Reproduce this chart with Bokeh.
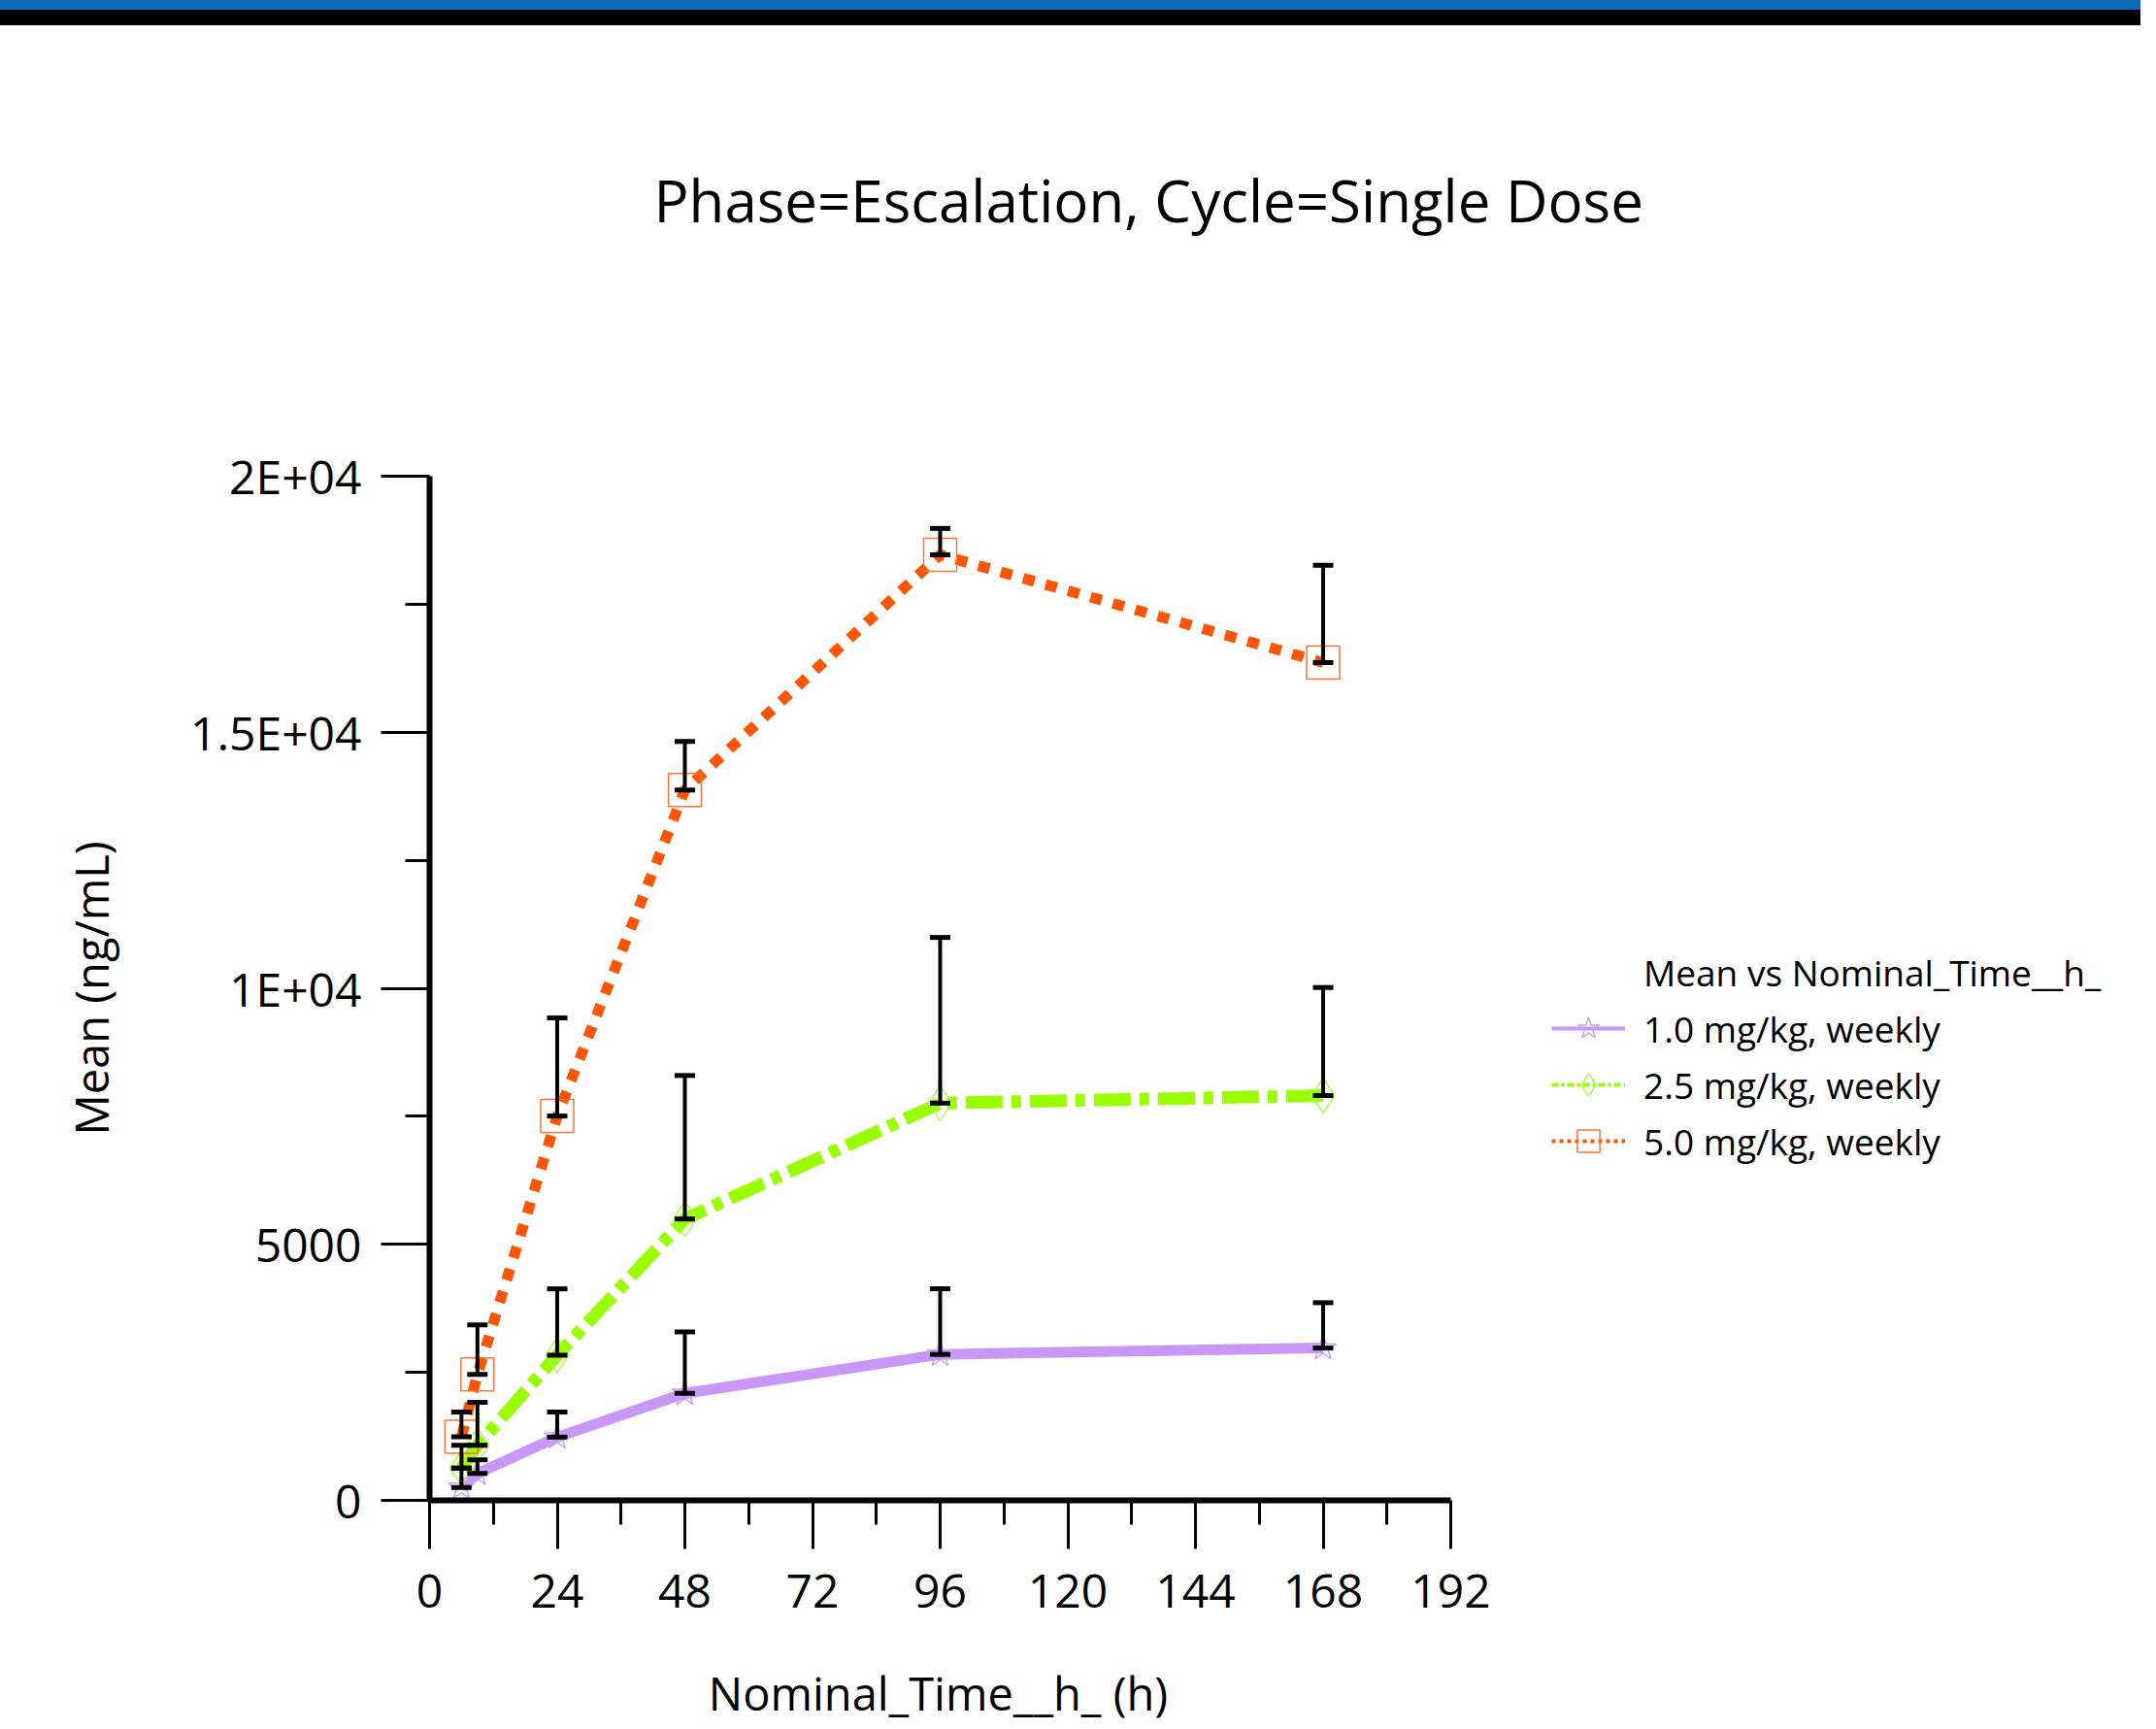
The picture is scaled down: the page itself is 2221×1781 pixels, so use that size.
from bokeh.plotting import figure
from bokeh.models import (ColumnDataSource, Whisker, TeeHead, Legend, LegendItem,
                          FixedTicker, Div, Range1d)
from bokeh.layouts import column
from bokeh.embed import file_html
from bokeh.resources import INLINE

FONT = "Open Sans"

# ---------------- data ----------------
time_h = [6, 9, 24, 48, 96, 168]
series_labels = ["1.0 mg/kg, weekly", "2.5 mg/kg, weekly", "5.0 mg/kg, weekly"]
mean_1_0 = [253, 525, 1235, 2090, 2850, 2975]
upper_1_0 = [632, 790, 1725, 3290, 4133, 3860]
mean_2_5 = [632, 1075, 2835, 5495, 7757, 7905]
upper_2_5 = [1075, 1915, 4130, 8297, 10993, 10015]
mean_5_0 = [1240, 2460, 7505, 13871, 18464, 16360]
upper_5_0 = [1725, 3425, 9421, 14820, 18980, 18260]

x_ticks = [0, 24, 48, 72, 96, 120, 144, 168, 192]
x_minor_ticks = [12, 36, 60, 84, 108, 132, 156, 180]
y_ticks = [0, 5000, 10000, 15000, 20000]
y_tick_labels = ["0", "5000", "1E+04", "1.5E+04", "2E+04"]
y_minor_ticks = [2500, 7500, 12500, 17500]

title_text = "Phase=Escalation, Cycle=Single Dose"
x_label = "Nominal_Time__h_ (h)"
y_label = "Mean (ng/mL)"
legend_title = "Mean vs Nominal_Time__h_"

# ---------------- layout ----------------
W = 2205
H_MAIN = 1754
LEFT, RIGHT, TOP = 442, 10, 464
AXIS_PX = 1052                      # pixel length of the 0..192 h axis
frame_px = W - LEFT - RIGHT
x_end = x_ticks[-1] * frame_px / AXIS_PX   # frame extends right to hold the legend
AXIS_LABEL_PX = 47
# the axis label is centred on the whole frame; pad it with em spaces so that
# its visible part is centred under the 0..192 axis
n_pad = round((frame_px - AXIS_PX) / AXIS_LABEL_PX)

p = figure(width=W, height=H_MAIN,
           x_range=Range1d(0, x_end), y_range=Range1d(y_ticks[0], y_ticks[-1]),
           output_backend="svg", toolbar_location=None,
           min_border_left=LEFT, min_border_right=RIGHT,
           min_border_top=TOP, min_border_bottom=H_MAIN - TOP - 1055)
p.outline_line_color = None
p.xgrid.visible = False
p.ygrid.visible = False
p.background_fill_color = "white"
p.border_fill_color = "white"

p.title.text = title_text + "\n\n"
p.title.align = "left"
p.title.offset = 231
p.title.standoff = 160
p.title.text_font = FONT
p.title.text_font_size = "60px"
p.title.text_font_style = "normal"
p.title.text_color = "black"

p.xaxis.ticker = FixedTicker(ticks=x_ticks, minor_ticks=x_minor_ticks)
p.yaxis.ticker = FixedTicker(ticks=y_ticks, minor_ticks=y_minor_ticks)
p.yaxis.major_label_overrides = {v: s for v, s in zip(y_ticks, y_tick_labels)}
p.xaxis.major_label_overrides = {v: str(v) for v in x_ticks}
p.xaxis.bounds = (x_ticks[0], x_ticks[-1])

for ax in (p.xaxis[0], p.yaxis[0]):
    ax.axis_line_width = 6
    ax.axis_line_color = "black"
    ax.major_tick_line_width = 3
    ax.minor_tick_line_width = 3
    ax.major_tick_line_color = "black"
    ax.minor_tick_line_color = "black"
    ax.major_tick_out = 50
    ax.major_tick_in = 0
    ax.minor_tick_out = 25
    ax.minor_tick_in = 0
    ax.major_label_text_font = FONT
    ax.major_label_text_font_size = "48px"
    ax.major_label_text_color = "black"
    ax.axis_label_text_font = FONT
    ax.axis_label_text_font_size = f"{AXIS_LABEL_PX}px"
    ax.axis_label_text_font_style = "normal"
    ax.axis_label_text_color = "black"

p.xaxis.axis_label = x_label + "\u2003" * n_pad
p.yaxis.axis_label = y_label
p.xaxis.major_label_standoff = 26
p.xaxis.axis_label_standoff = 53
p.yaxis.major_label_standoff = 20
p.yaxis.axis_label_standoff = 67

# ---------------- series ----------------
styles = [
    dict(line_color="#c997fa", line_width=11, line_dash="solid",
         marker="star", m_color="#c9a0ff", m_size=28,
         leg_width=4, leg_dash="solid"),
    dict(line_color="#99ff00", line_width=13, line_dash="38 9 10 9",
         marker="diamond", m_color="#a8ff50", m_size=36,
         leg_width=4, leg_dash="7 3 3 3"),
    dict(line_color="#ff5500", line_width=11, line_dash="12 12",
         marker="square", m_color="#ff7438", m_size=34,
         leg_width=4, leg_dash="4 4"),
]
means = [mean_1_0, mean_2_5, mean_5_0]
uppers = [upper_1_0, upper_2_5, upper_5_0]

# legend title row: label only, glyph invisible (one-point line draws nothing)
title_proxy = p.line(x=time_h[:1], y=mean_1_0[:1], line_alpha=0)
legend_items = [LegendItem(label=legend_title, renderers=[title_proxy])]

for name, mean, upper, st in zip(series_labels, means, uppers, styles):
    src = ColumnDataSource(dict(t=time_h, mean=mean, upper=upper))
    p.line("t", "mean", source=src, line_color=st["line_color"],
           line_width=st["line_width"], line_dash=st["line_dash"])
    sc = p.scatter("t", "mean", source=src, marker=st["marker"], size=st["m_size"],
                   fill_color=None, line_color=st["m_color"], line_width=1.5)
    # thinner line used only for the legend swatch (single point -> nothing on plot)
    leg_line = p.line(x=time_h[:1], y=mean[:1], line_color=st["line_color"],
                      line_width=st["leg_width"], line_dash=st["leg_dash"])
    legend_items.append(LegendItem(label=name, renderers=[leg_line, sc]))

for mean, upper in zip(means, uppers):
    src = ColumnDataSource(dict(t=time_h, mean=mean, upper=upper))
    w = Whisker(source=src, base="t", lower="mean", upper="upper",
                line_color="black", line_width=4, level="annotation",
                upper_head=TeeHead(size=21, line_width=5, line_color="black"),
                lower_head=TeeHead(size=21, line_width=5, line_color="black"))
    p.add_layout(w)

legend = Legend(items=legend_items, location=(1156, 341),
                glyph_width=76, glyph_height=58, label_height=58, spacing=0,
                label_standoff=19, padding=0, margin=0,
                border_line_color=None, background_fill_alpha=0,
                label_text_font=FONT, label_text_font_size="37px",
                label_text_color="black", label_text_baseline="middle")
p.add_layout(legend, "center")

bar_blue = Div(text="", width=W, height=10, margin=0,
               styles={"background-color": "#0e6bb8"})
bar_black = Div(text="", width=W, height=16, margin=0,
                styles={"background-color": "#000000"})

layout = column(bar_blue, bar_black, p, spacing=0)
open("out.html", "w").write(file_html(layout, INLINE))
